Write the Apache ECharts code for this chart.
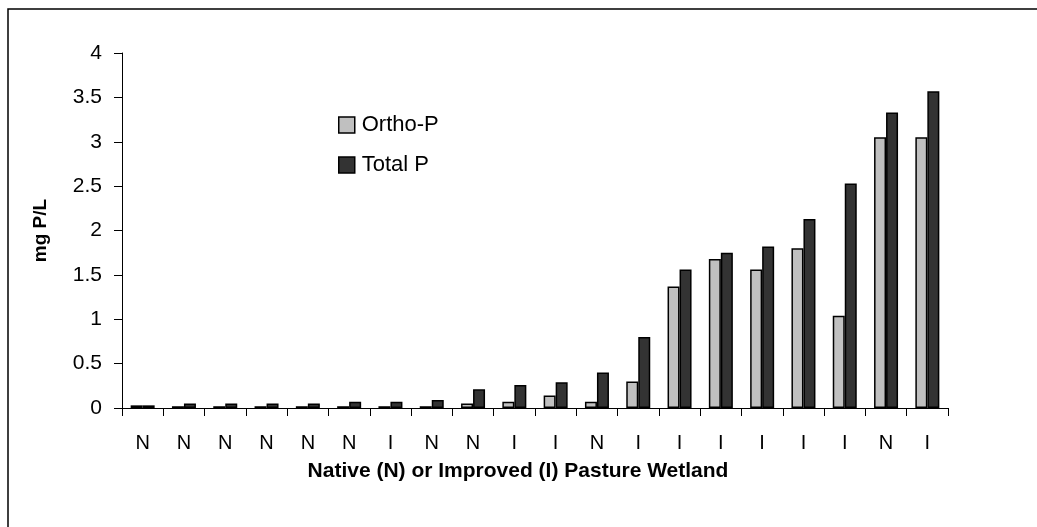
<!DOCTYPE html>
<html>
<head>
    <meta charset="utf-8"/>
    <title>Ortho-P and Total P</title>
    <script src="https://cdn.jsdelivr.net/npm/echarts@6/dist/echarts.min.js"></script>
    <style>
        html, body { margin: 0; padding: 0; background: #ffffff; }
        #chart { width: 1037px; height: 527px; }
    </style>
</head>
<body>
<div id="chart"></div>
<script>
// wetland type for each site
var categories = ['N','N','N','N','N','N','I','N','N','I','I','N','I','I','I','I','I','I','N','I'];
// mg P/L
var orthoP = [0.03, 0.02, 0.02, 0.02, 0.02, 0.02, 0.02, 0.02, 0.05, 0.07, 0.14, 0.07, 0.30, 1.37, 1.68, 1.56, 1.80, 1.04, 3.05, 3.05];
var totalP = [0.03, 0.05, 0.05, 0.05, 0.05, 0.07, 0.07, 0.09, 0.21, 0.26, 0.29, 0.40, 0.80, 1.56, 1.75, 1.82, 2.13, 2.53, 3.33, 3.57];
var yTicks = [0, 0.5, 1, 1.5, 2, 2.5, 3, 3.5, 4];

var font = 'Liberation Sans, Arial, sans-serif';
var chart = echarts.init(document.getElementById('chart'));

var option = {
    animation: false,
    backgroundColor: '#ffffff',
    textStyle: { fontFamily: font },
    graphic: [{
        type: 'rect',
        shape: { x: 8, y: 9, width: 1040, height: 530 },
        style: { fill: 'none', stroke: '#000000', lineWidth: 1.5 },
        silent: true
    }],
    legend: {
        orient: 'vertical',
        left: 333,
        top: 109,
        itemWidth: 16,
        itemHeight: 16,
        itemGap: 18,
        icon: 'rect',
        itemStyle: { borderColor: '#000000', borderWidth: 1.5 },
        textStyle: { fontFamily: font, fontSize: 22, color: '#000000', padding: [0, 0, 0, 2] },
        data: ['Ortho-P', 'Total P']
    },
    grid: { left: 122, right: 89, top: 53, bottom: 119 },
    xAxis: {
        type: 'category',
        data: categories,
        name: 'Native (N) or Improved (I) Pasture Wetland',
        nameLocation: 'middle',
        nameGap: 53,
        nameTextStyle: { fontFamily: font, fontSize: 21, fontWeight: 'bold', color: '#000000', padding: [0, 34, 0, 0] },
        axisLine: { lineStyle: { color: '#000000', width: 1 } },
        axisTick: { show: true, length: 8, inside: false, lineStyle: { color: '#000000' } },
        axisLabel: { fontFamily: font, fontSize: 20, color: '#000000', margin: 25 }
    },
    yAxis: {
        type: 'value',
        min: 0,
        max: 4,
        interval: 0.5,
        name: 'mg P/L',
        nameLocation: 'middle',
        nameGap: 72,
        nameTextStyle: { fontFamily: font, fontSize: 19, fontWeight: 'bold', color: '#000000' },
        axisLine: { show: true, lineStyle: { color: '#000000', width: 1 } },
        axisTick: { show: true, length: 8, lineStyle: { color: '#000000' } },
        splitLine: { show: false },
        axisLabel: {
            fontFamily: font, fontSize: 21, color: '#000000', margin: 20,
            formatter: function (v) { return yTicks.indexOf(v) >= 0 ? String(v) : ''; }
        }
    },
    series: [{
        name: 'Ortho-P',
        type: 'bar',
        data: orthoP,
        barWidth: 12,
        barGap: '0%',
        itemStyle: { color: '#c0c0c0', borderColor: '#000000', borderWidth: 1.5 }
    }, {
        name: 'Total P',
        type: 'bar',
        data: totalP,
        barWidth: 12,
        itemStyle: { color: '#333333', borderColor: '#000000', borderWidth: 1.5 }
    }]
};

chart.setOption(option);
</script>
</body>
</html>
